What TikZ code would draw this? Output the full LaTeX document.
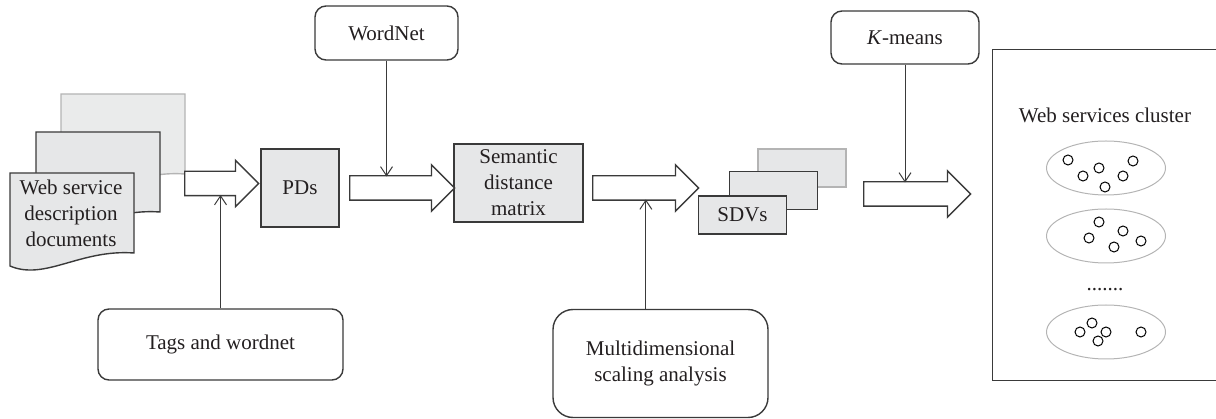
\documentclass[tikz,border=0pt]{standalone}
\usepackage{fontspec}
\setmainfont{Liberation Serif}
\usetikzlibrary{arrows.meta,positioning,calc,shapes.arrows,shapes.geometric}
\definecolor{LineGray}{HTML}{3A3A3A}
\definecolor{BoxGray}{HTML}{E6E7E8}
\definecolor{PaleGray}{HTML}{B4B4B4}
\definecolor{TextGray}{HTML}{231F20}

% one sheet of the document stack, top left corner at (#1,#2)
\newcommand{\docpage}[3]{%
  \draw[line width=1.4pt,#3,shift={(#1,#2)}] (0,0) -- (124,0) -- (124,80)
    .. controls (70,76) and (35,108) .. (0,93) -- cycle;}

\begin{document}
\begin{tikzpicture}[
			x=1pt,y=-1pt,
			font=\fontsize{21}{26}\selectfont,text=TextGray,
			box/.style={draw=LineGray,line width=1.4pt,fill=BoxGray,align=center,inner sep=2pt},
			src/.style={draw=LineGray,line width=1.4pt,rounded corners=11pt,fill=white,align=center},
			flow/.style={single arrow,draw=LineGray,line width=1.4pt,fill=white,inner sep=0pt,inner ysep=11.5pt,
				single arrow head extend=11pt,single arrow tip angle=90,anchor=tail,minimum width=45pt},
			arr/.style={-{Straight Barb[length=9pt,width=12pt]},line width=1pt,color=LineGray},
			group/.style={ellipse,draw=PaleGray,line width=1pt,minimum width=119pt,minimum height=54pt},
			dot/.style={circle,draw=black,line width=1pt,fill=white,inner sep=0pt,minimum size=10pt}
		]
		\useasboundingbox (0,0) rectangle (1216,419);
		\docpage{61}{94}{draw=PaleGray,fill=BoxGray!85}
		\docpage{36}{132}{draw=LineGray,fill=BoxGray}
		\docpage{10}{173}{draw=LineGray,fill=BoxGray}
		\node[align=center,inner sep=0pt] (docs) at (71,213) {Web service\\description\\documents};
		\node[box,minimum width=78pt,minimum height=78pt] (pds) at (300,188) {PDs};
		\node[box,minimum width=129pt,minimum height=78pt] (sem) at (518.5,183) {Semantic\\distance\\matrix};
		\node[box,draw=PaleGray,minimum width=88pt,minimum height=38pt] (sdvback) at (802,168) {};
		\node[box,minimum width=88pt,minimum height=38pt] (sdvmid) at (773.5,190.5) {};
		\node[box,minimum width=88pt,minimum height=38pt] (sdvs) at (742.5,215) {SDVs};
		\node[src,minimum width=143pt,minimum height=54pt] (wordnet) at (386.5,33) {WordNet};
		\node[src,minimum width=245pt,minimum height=71pt] (tags) at (220.5,344.5) {Tags and wordnet};
		\node[src,rounded corners=20pt,minimum width=215pt,minimum height=108pt] (mds) at (660.5,363.5) {Multidimensional\\scaling analysis};
		\node[src,minimum width=148pt,minimum height=53pt] (kmeans) at (905,37.5) {\textit{K}-means};
		\node[flow,minimum height=74pt] (a1) at (184,183.5) {};
		\node[flow,minimum height=105pt] (a2) at (349,188) {};
		\node[flow,minimum height=106pt] (a3) at (592,188) {};
		\node[flow,minimum height=107pt] (a4) at (863,194) {};
		\node[draw=LineGray,line width=1.4pt,minimum width=232pt,minimum height=331pt,anchor=north west] (cluster) at (992,49) {};
		\node (title) at (1105,115) {Web services cluster};
		\node[group] (g1) at (1106,168) {};
		\node[group] (g2) at (1106,236) {};
		\node (more) at (1105,290) {.......};
		\node[group] (g3) at (1106,332) {};
		\foreach \x/\y [count=\i] in {1068/160,1083/176,1099/168,1105/187,1123/176,1133/161,
			1099/222,1089/238,1114/247,1123/231,1141/241,
			1092/323,1080/332,1106/332,1098/341,1141/332}
			\node[dot] (pt\i) at (\x,\y) {};
		\coordinate (a3mid) at ($(a3.tail)!0.5!(a3.tip)$);
		\draw[arr] (tags.north) -- ($(tags.north |- a1.tail)+(0,11.5)$);
		\draw[arr] (wordnet.south) -- ($(wordnet.south |- a2.tail)+(0,-11.5)$);
		\draw[arr] (mds.north -| a3mid) -- ($(a3mid)+(0,11.5)$);
		\draw[arr] (kmeans.south) -- ($(kmeans.south |- a4.tail)+(0,-11.5)$);
	\end{tikzpicture}
\end{document}
